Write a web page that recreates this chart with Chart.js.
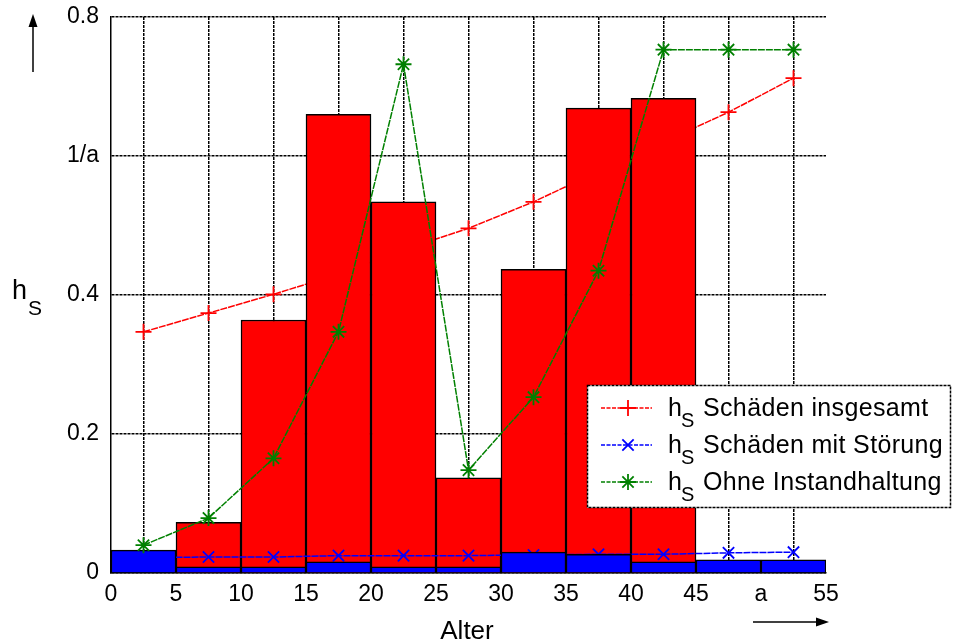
<!DOCTYPE html>
<html>
<head>
<meta charset="utf-8">
<script src="https://cdn.jsdelivr.net/npm/chart.js@4.4.1/dist/chart.umd.min.js"></script>
<style>
	html, body { margin: 0; padding: 0; background: #fff; }
</style>
</head>
<body>
<canvas id="chart" width="955" height="644"></canvas>
<script>
// bins of 5 years, plotted at their centres
var binCenters   = [2.5, 7.5, 12.5, 17.5, 22.5, 27.5, 32.5, 37.5, 42.5, 47.5, 52.5];
var barsTotal    = [0, 0.073, 0.364, 0.660, 0.534, 0.137, 0.437, 0.669, 0.683, 0, 0];
var barsFault    = [0.033, 0.009, 0.009, 0.016, 0.009, 0.009, 0.030, 0.027, 0.016, 0.019, 0.019];
var rateTotal    = [0.347, 0.374, 0.401, 0.430, 0.465, 0.496, 0.534, 0.578, 0.620, 0.663, 0.712];
var rateFault    = [0.022, 0.023, 0.023, 0.025, 0.025, 0.025, 0.026, 0.027, 0.027, 0.029, 0.030];
var rateNoMaint  = [0.040, 0.079, 0.165, 0.347, 0.732, 0.148, 0.253, 0.435, 0.753, 0.753, 0.753];

var xTicks      = [0, 5, 10, 15, 20, 25, 30, 35, 40, 45, 50, 55];
var xTickLabels = ['0', '5', '10', '15', '20', '25', '30', '35', '40', '45', 'a', '55'];
var yTicks      = [0, 0.2, 0.4, 0.6, 0.8];
var yTickLabels = ['0', '0.2', '0.4', '1/a', '0.8'];

var legendLabels = ['Schäden insgesamt', 'Schäden mit Störung', 'Ohne Instandhaltung'];

var FONT = '"Liberation Sans", Arial, Helvetica, sans-serif';

function pts(values, skipZero) {
	return binCenters.map(function (x, i) {
		var v = values[i];
		return { x: x, y: (skipZero && v === 0) ? null : v };
	});
}

var lineDefaults = {
	type: 'line',
	borderWidth: 1.5,
	borderDash: [7, 1],
	pointRadius: 8,
	pointBorderWidth: 1.8,
	fill: false,
	tension: 0
};

var series = [
	{ color: '#ff0000', style: 'cross' },
	{ color: '#0000ff', style: 'crossRot' },
	{ color: '#008000', style: 'star' }
];

function lineSet(label, values, s, order) {
	return Object.assign({}, lineDefaults, {
		label: label,
		data: pts(values),
		borderColor: s.color,
		pointBorderColor: s.color,
		pointBackgroundColor: s.color,
		pointStyle: s.style,
		order: order
	});
}

var overlay = {
	id: 'overlay',
	afterDraw: function (chart) {
		var ctx = chart.ctx;
		ctx.save();
		ctx.fillStyle = '#000';
		ctx.strokeStyle = '#000';

		// y axis label h_S with arrow
		ctx.textBaseline = 'alphabetic';
		ctx.textAlign = 'left';
		ctx.font = '27px ' + FONT;
		ctx.fillText('h', 12, 299);
		ctx.font = '21px ' + FONT;
		ctx.fillText('S', 28, 315);

		ctx.lineWidth = 1.5;
		ctx.beginPath();
		ctx.moveTo(33, 72); ctx.lineTo(33, 17);
		ctx.stroke();
		ctx.beginPath();
		ctx.moveTo(33, 14); ctx.lineTo(28.5, 27); ctx.lineTo(37.5, 27); ctx.closePath();
		ctx.fill();

		// x axis label with arrow
		ctx.font = '26px ' + FONT;
		ctx.textAlign = 'center';
		ctx.fillText('Alter', 467, 639);
		ctx.beginPath();
		ctx.moveTo(753, 622); ctx.lineTo(820, 622);
		ctx.stroke();
		ctx.beginPath();
		ctx.moveTo(829, 622); ctx.lineTo(816, 617.5); ctx.lineTo(816, 626.5); ctx.closePath();
		ctx.fill();

		// legend box
		ctx.fillStyle = '#fff';
		ctx.fillRect(587, 385, 364, 123);
		ctx.lineWidth = 1.5;
		ctx.setLineDash([3, 1]);
		ctx.strokeRect(587.5, 385.5, 363, 122);

		var rows = [408, 445, 482];
		rows.forEach(function (y, i) {
			var s = series[i];
			ctx.strokeStyle = s.color;
			ctx.fillStyle = s.color;
			ctx.lineWidth = 1.5;
			ctx.setLineDash([4, 1.5]);
			ctx.beginPath();
			ctx.moveTo(601, y); ctx.lineTo(652, y);
			ctx.stroke();
			ctx.setLineDash([]);
			ctx.lineWidth = 1.8;
			Chart.helpers.drawPoint(ctx, { pointStyle: s.style, radius: 8, rotation: 0, borderWidth: 1.8 }, 628, y);

			ctx.fillStyle = '#000';
			ctx.textAlign = 'left';
			ctx.letterSpacing = '0px';
			ctx.font = '25px ' + FONT;
			ctx.fillText('h', 668, y + 8);
			ctx.font = '20px ' + FONT;
			ctx.fillText('S', 681, y + 19);
			ctx.font = '25px ' + FONT;
			ctx.letterSpacing = '0.35px';
			ctx.fillText(legendLabels[i], 703, y + 8);
			ctx.letterSpacing = '0px';
		});
		ctx.restore();
	}
};

new Chart(document.getElementById('chart'), {
	type: 'bar',
	data: {
		datasets: [
			lineSet('Ohne Instandhaltung', rateNoMaint, series[2], 0),
			{
				type: 'bar', label: 'Störung', data: pts(barsFault, true),
				backgroundColor: '#0000ff', borderColor: '#000', borderWidth: 1.5, order: 1
			},
			lineSet('Schäden mit Störung', rateFault, series[1], 2),
			{
				type: 'bar', label: 'insgesamt', data: pts(barsTotal, true),
				backgroundColor: '#ff0000', borderColor: '#000', borderWidth: 1.5, order: 3
			},
			lineSet('Schäden insgesamt', rateTotal, series[0], 4)
		]
	},
	options: {
		responsive: false,
		animation: false,
		devicePixelRatio: 1,
		layout: { padding: { left: 0, right: 129, top: 17, bottom: 0 } },
		datasets: { bar: { grouped: false, barPercentage: 1, categoryPercentage: 1 } },
		plugins: { legend: { display: false }, tooltip: { enabled: false } },
		scales: {
			x: {
				type: 'linear', min: 0, max: 55, offset: false,
				afterBuildTicks: function (s) { s.ticks = xTicks.map(function (v) { return { value: v }; }); },
				afterFit: function (s) { s.height = 71; },
				ticks: {
					padding: 8, color: '#000', maxRotation: 0, autoSkip: false,
					font: { family: FONT, size: 23 },
					callback: function (v) { var i = xTicks.indexOf(v); return i < 0 ? '' : xTickLabels[i]; }
				},
				grid: { color: '#000', lineWidth: 1.5, drawTicks: false },
				border: { display: true, color: '#000', width: 1.5, dash: [3, 1] }
			},
			y: {
				min: 0, max: 0.8,
				afterBuildTicks: function (s) { s.ticks = yTicks.map(function (v) { return { value: v }; }); },
				afterFit: function (s) { s.width = 111; },
				ticks: {
					padding: 12, color: '#000', autoSkip: false,
					font: { family: FONT, size: 23, lineHeight: 0.3 },
					callback: function (v) { var i = yTicks.indexOf(v); return i < 0 ? '' : yTickLabels[i]; }
				},
				grid: { color: '#000', lineWidth: 1.5, drawTicks: false },
				border: { display: true, color: '#000', width: 1.5, dash: [3, 1] }
			}
		}
	},
	plugins: [overlay]
});
</script>
</body>
</html>
